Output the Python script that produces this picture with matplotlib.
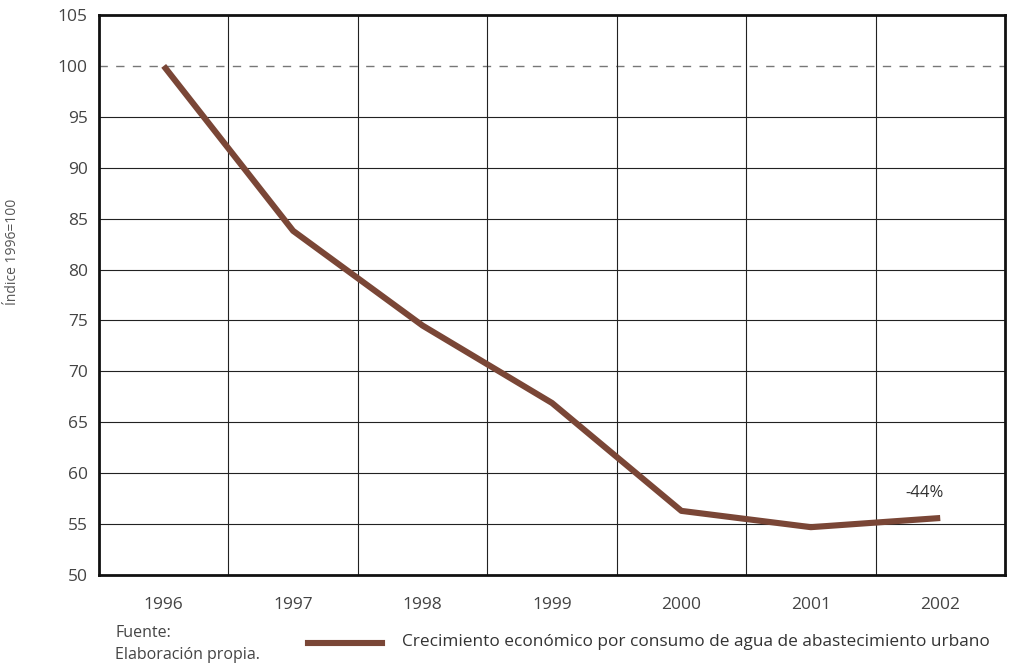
import matplotlib
matplotlib.use('Agg')
import matplotlib.pyplot as plt
from matplotlib.lines import Line2D

# datos
anios = ['1996', '1997', '1998', '1999', '2000', '2001', '2002']
indice = [100, 83.8, 74.5, 66.9, 56.3, 54.7, 55.6]
yticks = [50, 55, 60, 65, 70, 75, 80, 85, 90, 95, 100, 105]
etiqueta_final = '-44%'
serie = 'Crecimiento económico por consumo de agua de abastecimiento urbano'

plt.rcParams['font.family'] = ['Open Sans', 'DejaVu Sans']

fig = plt.figure(figsize=(10.1, 6.72), dpi=100)
ax = fig.add_axes([0.098, 0.1443, 0.897, 0.8334])

x = list(range(len(anios)))
color_linea = '#7a4636'

# rejilla
for v in yticks[1:-2]:
  ax.axhline(v, color='#222222', linewidth=0.8, zorder=1)
ax.axhline(100, color='#777777', linewidth=1.0, dashes=(6, 6), zorder=1)
for i in range(len(anios) - 1):
  ax.axvline(i + 0.5, color='#222222', linewidth=0.8, zorder=1)

ax.plot(x, indice, color=color_linea, linewidth=4.4, solid_capstyle='butt', zorder=3)
ax.text(x[-1] - 0.12, indice[-1] + 2.5, etiqueta_final, fontsize=12, color='#333333',
        ha='center', va='center')

ax.set_xlim(-0.5, len(anios) - 0.5)
ax.set_ylim(50, 105)
ax.set_xticks(x)
ax.set_xticklabels(anios)
ax.set_yticks(yticks)
ax.tick_params(axis='both', length=0, labelsize=12.5, labelcolor='#444444')
ax.tick_params(axis='x', pad=16)
ax.tick_params(axis='y', pad=8)
for s in ax.spines.values():
  s.set_linewidth(2.0)
  s.set_color('#111111')

fig.text(0.012, 0.625, 'Índice 1996=100', rotation=90, fontsize=10, color='#555555',
         ha='center', va='center')

# pie y leyenda
fig.text(0.114, 0.058, 'Fuente:', fontsize=11.5, color='#444444', ha='left', va='center')
fig.text(0.114, 0.026, 'Elaboración propia.', fontsize=11.5, color='#444444', ha='left', va='center')
fig.add_artist(Line2D([0.305, 0.378], [0.043, 0.043], transform=fig.transFigure,
                      color=color_linea, linewidth=4.4))
fig.text(0.398, 0.045, serie, fontsize=12.4, color='#333333', ha='left', va='center')

plt.savefig('out.png', dpi=100)
